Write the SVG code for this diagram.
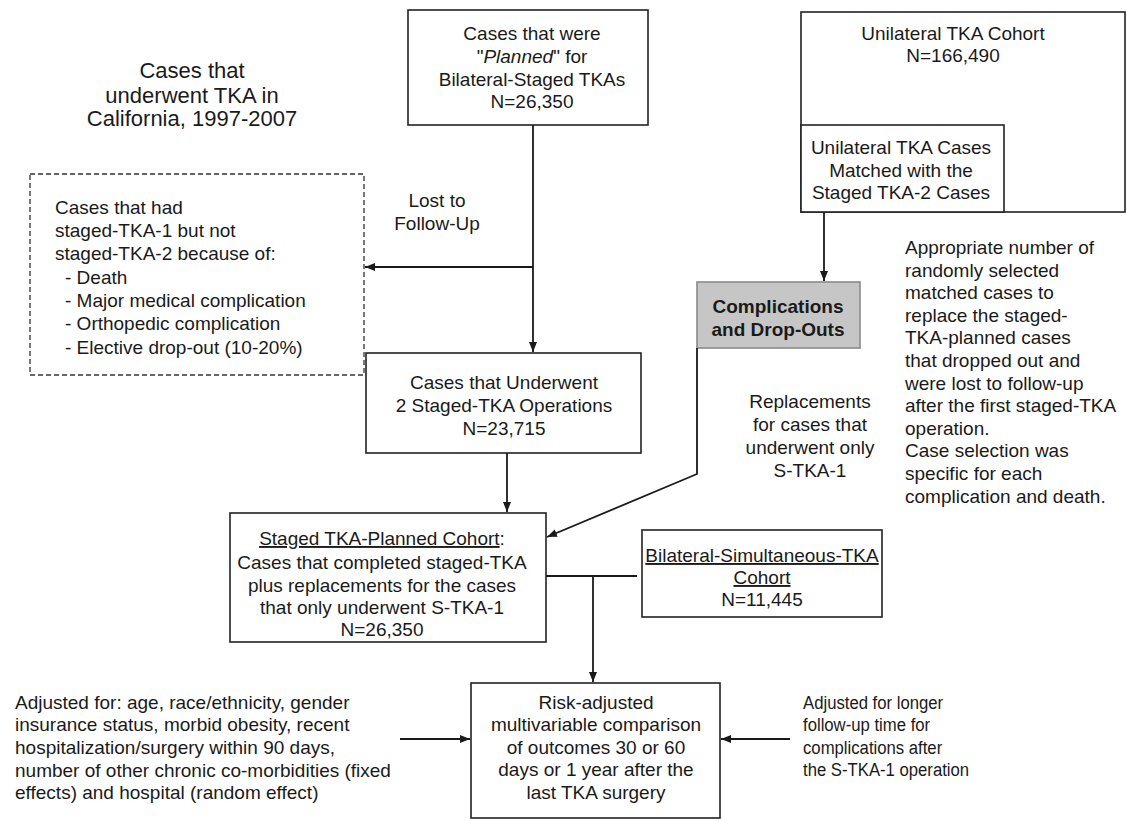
<svg xmlns="http://www.w3.org/2000/svg" width="1127" height="821" viewBox="0 0 1127 821">
<style>
text{font-family:"Liberation Sans",Arial,sans-serif;font-size:19px;fill:#1a1a1a}
.c{text-anchor:middle}
.t{font-size:22px}
.box{fill:#fff;stroke:#222;stroke-width:1.6}
.dash{fill:#fff;stroke:#333;stroke-width:1.3;stroke-dasharray:5 3}
.gray{fill:#c6c6c6;stroke:#8a8a8a;stroke-width:1.6}
.ln{fill:none;stroke:#1a1a1a;stroke-width:1.8}
.u{text-decoration:underline}
</style>
<defs>
<marker id="ah" viewBox="0 0 10 10" refX="10" refY="5" markerWidth="10" markerHeight="10" markerUnits="userSpaceOnUse" orient="auto">
<path d="M0,1 L10,5 L0,9 Z" fill="#1a1a1a"/>
</marker>
</defs>
<rect width="1127" height="821" fill="#fff"/>

<g id="title">
<text class="c t" x="192" y="78">Cases that</text>
<text class="c t" x="192" y="103">underwent TKA in</text>
<text class="c t" x="192" y="126">California, 1997-2007</text>
</g>

<g id="planned">
<rect class="box" x="408" y="10" width="240" height="115"/>
<text class="c" x="532" y="40">Cases that were</text>
<text class="c" x="532" y="63">"<tspan font-style="italic">Planned</tspan>" for</text>
<text class="c" x="532" y="86">Bilateral-Staged TKAs</text>
<text class="c" x="532" y="108">N=26,350</text>
</g>

<g id="unilateral">
<rect class="box" x="801" y="12" width="324" height="200"/>
<text class="c" x="953" y="40">Unilateral TKA Cohort</text>
<text class="c" x="953" y="62">N=166,490</text>
</g>

<g id="matched">
<rect class="box" x="801" y="125" width="203" height="87"/>
<text class="c" x="901" y="154">Unilateral TKA Cases</text>
<text class="c" x="901" y="177">Matched with the</text>
<text class="c" x="901" y="199">Staged TKA-2 Cases</text>
</g>

<g id="dropouts">
<rect class="dash" x="30" y="174" width="334" height="201"/>
<text x="55" y="214">Cases that had</text>
<text x="55" y="237">staged-TKA-1 but not</text>
<text x="55" y="260">staged-TKA-2 because of:</text>
<text x="65" y="284">- Death</text>
<text x="65" y="307">- Major medical complication</text>
<text x="65" y="330">- Orthopedic complication</text>
<text x="65" y="354">- Elective drop-out (10-20%)</text>
</g>

<g id="lost-label">
<text class="c" x="437" y="207">Lost to</text>
<text class="c" x="437" y="230">Follow-Up</text>
</g>

<g id="underwent2">
<rect class="box" x="366" y="353" width="275" height="100"/>
<text class="c" x="504" y="389">Cases that Underwent</text>
<text class="c" x="504" y="412">2 Staged-TKA Operations</text>
<text class="c" x="504" y="435">N=23,715</text>
</g>

<g id="complications">
<rect class="gray" x="697" y="282" width="163" height="66"/>
<text class="c" x="778" y="313" font-weight="bold">Complications</text>
<text class="c" x="778" y="336" font-weight="bold">and Drop-Outs</text>
</g>

<g id="replacements-label">
<text class="c" x="810" y="408">Replacements</text>
<text class="c" x="810" y="431">for cases that</text>
<text class="c" x="810" y="454">underwent only</text>
<text class="c" x="810" y="477">S-TKA-1</text>
</g>

<g id="note-right">
<text x="905" y="254">Appropriate number of</text>
<text x="905" y="277">randomly selected</text>
<text x="905" y="299">matched cases to</text>
<text x="905" y="322">replace the staged-</text>
<text x="905" y="344">TKA-planned cases</text>
<text x="905" y="367">that dropped out and</text>
<text x="905" y="390">were lost to follow-up</text>
<text x="905" y="412">after the first staged-TKA</text>
<text x="905" y="435">operation.</text>
<text x="905" y="457">Case selection was</text>
<text x="905" y="480">specific for each</text>
<text x="905" y="503">complication and death.</text>
</g>

<g id="staged-cohort">
<rect class="box" x="230" y="513" width="316" height="129"/>
<text class="c" x="382" y="545"><tspan class="u">Staged TKA-Planned Cohort</tspan>:</text>
<text class="c" x="382" y="569">Cases that completed staged-TKA</text>
<text class="c" x="382" y="592">plus replacements for the cases</text>
<text class="c" x="382" y="614">that only underwent S-TKA-1</text>
<text class="c" x="382" y="636">N=26,350</text>
</g>

<g id="simultaneous">
<rect class="box" x="642" y="530" width="240" height="87"/>
<text class="c u" x="762" y="562">Bilateral-Simultaneous-TKA</text>
<text class="c u" x="762" y="584">Cohort</text>
<text class="c" x="762" y="606">N=11,445</text>
</g>

<g id="note-left">
<text x="15" y="709">Adjusted for: age, race/ethnicity, gender</text>
<text x="15" y="731">insurance status, morbid obesity, recent</text>
<text x="15" y="754">hospitalization/surgery within 90 days,</text>
<text x="15" y="777">number of other chronic co-morbidities (fixed</text>
<text x="15" y="799">effects) and hospital (random effect)</text>
</g>

<g id="risk">
<rect class="box" x="471" y="683" width="249" height="135"/>
<text class="c" x="596" y="709">Risk-adjusted</text>
<text class="c" x="596" y="731">multivariable comparison</text>
<text class="c" x="596" y="754">of outcomes 30 or 60</text>
<text class="c" x="596" y="776">days or 1 year after the</text>
<text class="c" x="596" y="799">last TKA surgery</text>
</g>

<g id="note-followup" transform="translate(803,0) scale(0.88,1) translate(-803,0)">
<text x="803" y="709">Adjusted for longer</text>
<text x="803" y="731">follow-up time for</text>
<text x="803" y="754">complications after</text>
<text x="803" y="776">the S-TKA-1 operation</text>
</g>

<g id="connectors">
<path class="ln" d="M533,125 V352" marker-end="url(#ah)"/>
<path class="ln" d="M533,267 H365" marker-end="url(#ah)"/>
<path class="ln" d="M507,453 V512" marker-end="url(#ah)"/>
<path class="ln" d="M824,212 V281" marker-end="url(#ah)"/>
<path class="ln" d="M697,348 V474 L547,537" marker-end="url(#ah)"/>
<path class="ln" d="M546,576 H637"/>
<path class="ln" d="M593,576 V682" marker-end="url(#ah)"/>
<path class="ln" d="M400,739 H470" marker-end="url(#ah)"/>
<path class="ln" d="M790,739 H721" marker-end="url(#ah)"/>
</g>
</svg>
